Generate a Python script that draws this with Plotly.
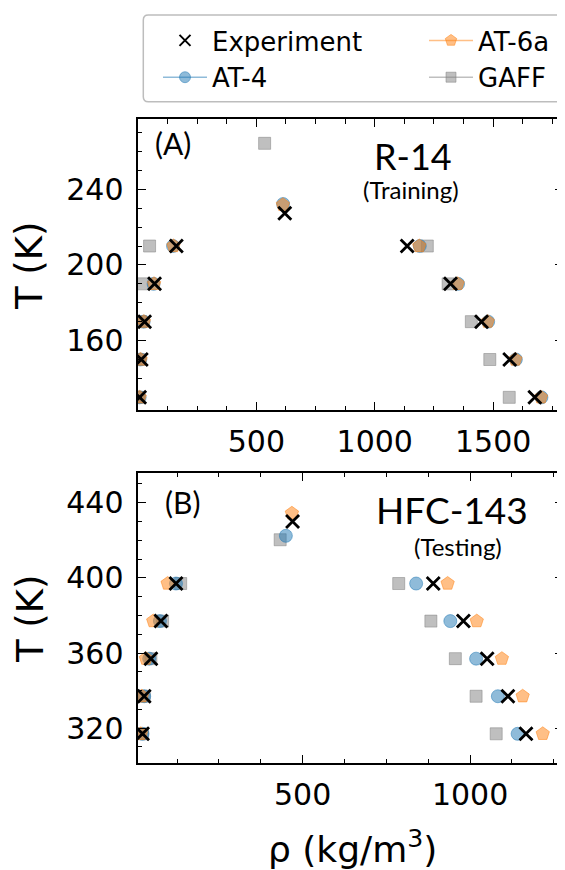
import plotly.graph_objects as go

# page body has an 8px margin; figure is sized so it ends at the window edge
OFF = 8
W, H = 565 - OFF, 870 - OFF

def X(px):
    return (px - OFF) / W

def Y(py):
    return 1 - (py - OFF) / H

# ---------------- Panel A : R-14 (Training) ----------------
a_exp_T = [227.3, 210, 190, 170, 150, 130, 210, 190, 170, 150, 130]
a_exp_rho = [620, 162, 70, 28, 14, 7, 1137, 1320, 1451, 1570, 1676]
a_at4_T = [232.2, 210, 190, 170, 150, 130, 210, 190, 170, 150, 130]
a_at4_rho = [613, 148, 66, 24, 10, 7, 1190, 1352, 1479, 1596, 1704]
a_at6_T = [231.8, 210, 190, 170, 150, 130, 210, 190, 170, 150, 130]
a_at6_rho = [612, 150, 68, 25, 11, 7, 1188, 1350, 1477, 1594, 1702]
a_gaff_T = [264.3, 210, 190, 170, 150, 130, 210, 190, 170, 150, 130]
a_gaff_rho = [535, 49, 18, 12, 6, 3, 1222, 1310, 1408, 1486, 1568]

# ---------------- Panel B : HFC-143 (Testing) ----------------
b_exp_T = [430, 397, 377, 357, 337, 317, 397, 377, 357, 337, 317]
b_exp_rho = [470, 122, 77, 47, 27, 22, 890, 980, 1051, 1113, 1167]
b_at4_T = [422.4, 397, 377, 357, 337, 317, 397, 377, 357, 337, 317]
b_at4_rho = [450, 122, 74, 42, 27, 22, 839, 941, 1018, 1083, 1142]
b_at6_T = [434.4, 397, 377, 357, 337, 317, 397, 377, 357, 337, 317]
b_at6_rho = [468, 97, 54, 32, 20, 17, 933, 1020, 1095, 1157, 1217]
b_gaff_T = [420.3, 397, 377, 357, 337, 317, 397, 377, 357, 337, 317]
b_gaff_rho = [433, 136, 82, 47, 27, 22, 787, 883, 956, 1018, 1078]

a_xticks = [500, 1000, 1500]
a_yticks = [160, 200, 240]
b_xticks = [500, 1000]
b_yticks = [320, 360, 400, 440]

BLUE = "rgba(31,119,180,0.5)"
ORANGE = "rgba(255,127,14,0.5)"
GRAY = "rgba(128,128,128,0.5)"

fig = go.Figure()

def series(x, y, xa, ya, symbol, color, size, lw=1):
    fig.add_trace(go.Scatter(
        x=x, y=y, xaxis=xa, yaxis=ya, mode="markers", showlegend=False,
        marker=dict(symbol=symbol, color=color, size=size,
                    line=dict(width=lw, color=color)),
    ))

for (xa, ya, gx, gy, b4x, b4y, b6x, b6y, ex, ey) in [
    ("x", "y", a_gaff_rho, a_gaff_T, a_at4_rho, a_at4_T, a_at6_rho, a_at6_T, a_exp_rho, a_exp_T),
    ("x2", "y2", b_gaff_rho, b_gaff_T, b_at4_rho, b_at4_T, b_at6_rho, b_at6_T, b_exp_rho, b_exp_T),
]:
    series(gx, gy, xa, ya, "square", GRAY, 12)
    series(b4x, b4y, xa, ya, "circle", BLUE, 13)
    series(b6x, b6y, xa, ya, "pentagon", ORANGE, 14)
    series(ex, ey, xa, ya, "x-thin", "black", 13, lw=2.8)

# legend-only entries
def leg(name, legend, mode, symbol, color, size, lw=1, rank=1):
    fig.add_trace(go.Scatter(
        x=[None], y=[None], name=name, legend=legend, mode=mode,
        legendrank=rank,
        line=dict(color=color, width=1.5),
        marker=dict(symbol=symbol, color=color, size=size, line=dict(width=lw, color=color)),
    ))

leg("Experiment", "legend", "markers", "x-thin", "black", 11, lw=2, rank=1)
leg("AT-4", "legend", "lines+markers", "circle", BLUE, 11, rank=2)
leg("AT-6a", "legend2", "lines+markers", "pentagon", ORANGE, 12, rank=1)
leg("GAFF", "legend2", "lines+markers", "square", GRAY, 10, rank=2)

TICKFONT = dict(family="DejaVu Sans", size=30, color="black")
XD = [X(137.5), X(562.5)]

def axis(domain, rng, tickvals, minor_dtick, anchor):
    return dict(
        domain=domain, range=rng, anchor=anchor, tickmode="array", tickvals=tickvals,
        showline=True, linecolor="black", linewidth=2, mirror="allticks",
        ticks="inside", ticklen=8, tickwidth=1.3, tickcolor="black",
        minor=dict(dtick=minor_dtick, tick0=0, ticks="inside", ticklen=4.5,
                   tickwidth=1.1, tickcolor="black", showgrid=False),
        showgrid=False, zeroline=False, tickfont=TICKFONT, automargin=False,
    )

LEGFONT = dict(family="DejaVu Sans", size=26, color="black")
fig.update_layout(
    width=W, height=H,
    margin=dict(l=0, r=0, t=0, b=0),
    paper_bgcolor="white", plot_bgcolor="white",
    xaxis=axis(XD, [-2, 1793], a_xticks, 125, "y"),
    yaxis=axis([Y(410), Y(119.3)], [123.3, 277], a_yticks, 10, "x"),
    xaxis2=axis(XD, [7, 1276], b_xticks, 125, "y2"),
    yaxis2=axis([Y(763.3), Y(472.7)], [301.3, 456], b_yticks, 10, "x2"),
    legend=dict(x=X(158), y=Y(17), xanchor="left", yanchor="top", itemwidth=44,
                bgcolor="rgba(0,0,0,0)", borderwidth=0, tracegroupgap=0, font=LEGFONT),
    legend2=dict(x=X(424), y=Y(17), xanchor="left", yanchor="top", itemwidth=44,
                 bgcolor="rgba(0,0,0,0)", borderwidth=0, tracegroupgap=0, font=LEGFONT),
)
fig.update_xaxes(ticklabelstandoff=4)
fig.update_yaxes(ticklabelstandoff=6)

# rounded legend frame
x0, x1 = X(143.3), X(562.5)
y0, y1 = Y(101.7), Y(15)
rx, ry = 5 / W, 5 / H
path = (f"M{x0+rx},{y1} L{x1-rx},{y1} Q{x1},{y1} {x1},{y1-ry} "
        f"L{x1},{y0+ry} Q{x1},{y0} {x1-rx},{y0} L{x0+rx},{y0} "
        f"Q{x0},{y0} {x0},{y0+ry} L{x0},{y1-ry} Q{x0},{y1} {x0+rx},{y1} Z")
fig.add_shape(type="path", path=path, xref="paper", yref="paper",
              line=dict(color="#bdbdbd", width=1.5), fillcolor="rgba(0,0,0,0)", layer="below")

LAB = "Lato"
def ann(text, x, y, size, family=LAB, angle=0):
    fig.add_annotation(text=text, x=X(x), y=Y(y), xref="paper", yref="paper",
                       showarrow=False, textangle=angle, xanchor="center", yanchor="middle",
                       font=dict(family=family, size=size, color="black"))

ann("(A)", 173, 143, 30)
ann("R-14", 413, 156, 36)
ann("(Training)", 411, 190, 24)
ann("(B)", 182, 502, 30)
ann("HFC-143", 452, 509, 37)
ann("(Testing)", 458, 546, 24)
ann("T (K)", 30, 266, 37, family="DejaVu Sans", angle=-90)
ann("T (K)", 30, 619, 37, family="DejaVu Sans", angle=-90)
ann("ρ (kg/m<sup>3</sup>)", 352, 847, 36, family="DejaVu Sans")

fig.write_html("out.html")
